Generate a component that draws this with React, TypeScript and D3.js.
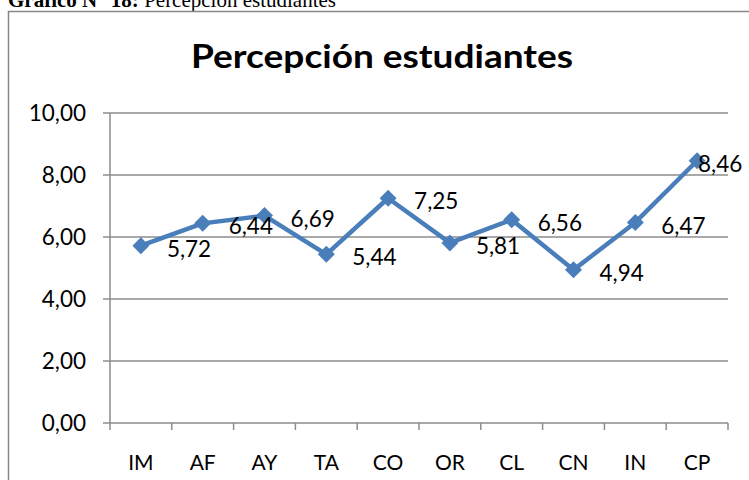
import React from 'react';
import * as d3 from 'd3';

const categories = ['IM', 'AF', 'AY', 'TA', 'CO', 'OR', 'CL', 'CN', 'IN', 'CP'];
const values = [5.72, 6.44, 6.69, 5.44, 7.25, 5.81, 6.56, 4.94, 6.47, 8.46];
const yTicks = [0, 2, 4, 6, 8, 10];

const fmt = (v: number) => v.toFixed(2).replace('.', ',');

export default function App() {
  const width = 749;
  const height = 480;
  const margin = { left: 110, right: 21, top: 113, bottom: 57 };

  const x = d3.scaleBand<string>()
    .domain(categories)
    .range([margin.left, width - margin.right]);
  const y = d3.scaleLinear()
    .domain([0, 10])
    .range([height - margin.bottom, margin.top]);

  const line = d3.line<number>()
    .x((d, i) => x(categories[i])! + x.bandwidth() / 2)
    .y(d => y(d));

  const font = 'Lato, "Open Sans", sans-serif';
  const grid = '#8c8c8c';
  const blue = '#4a7ebb';

  return (
    <svg width={width} height={height} style={{ position: 'absolute', left: 0, top: 0 }}>
      <rect width={width} height={height} fill="#fff" />
      {/* caption, cut at the top like the scan */}
      <text x={8} y={7} fontFamily='"Liberation Serif", "Times New Roman", serif' fontSize={21}>
        <tspan fontWeight="bold">Gráfico N° 18:</tspan> Percepción estudiantes
      </text>
      {/* chart frame */}
      <path d={`M8.5,${height + 2} V11.5 H${width + 2}`} fill="none" stroke="#878787" strokeWidth={1.5} />

      <text x={382} y={68} textAnchor="middle" fontFamily={font} fontWeight="bold" fontSize={33}
        textLength={382} lengthAdjust="spacingAndGlyphs">
        Percepción estudiantes
      </text>

      {yTicks.map(t => (
        <g key={t}>
          <line x1={margin.left - 7} x2={width - margin.right} y1={y(t)} y2={y(t)} stroke={grid} strokeWidth={1.5} />
          <text x={86} y={y(t)} dy="0.36em" textAnchor="end" fontFamily={font} fontSize={22.5}>{fmt(t)}</text>
        </g>
      ))}
      <line x1={margin.left} x2={margin.left} y1={y(10)} y2={y(0)} stroke={grid} strokeWidth={1.5} />

      {categories.map(c => (
        <line key={'t' + c} x1={x(c)!} x2={x(c)!} y1={y(0)} y2={y(0) + 7} stroke={grid} strokeWidth={1.5} />
      ))}
      <line x1={width - margin.right} x2={width - margin.right} y1={y(0)} y2={y(0) + 7} stroke={grid} strokeWidth={1.5} />
      {categories.map(c => (
        <text key={'l' + c} x={x(c)! + x.bandwidth() / 2} y={462} dy="0.36em" textAnchor="middle" fontFamily={font} fontSize={21}>{c}</text>
      ))}

      <path d={line(values) || ''} fill="none" stroke={blue} strokeWidth={4.5} strokeLinejoin="round" />
      {values.map((v, i) => {
        const cx = x(categories[i])! + x.bandwidth() / 2;
        const cy = y(v);
        return (
          <rect key={'m' + i} x={cx - 6} y={cy - 6} width={12} height={12} fill={blue}
            transform={`rotate(45 ${cx} ${cy})`} />
        );
      })}
      {values.map((v, i) => {
        const cx = x(categories[i])! + x.bandwidth() / 2;
        const lx = Math.min(cx + 26, width - 5 - 46);
        return (
          <text key={'d' + i} x={lx} y={y(v) + 3} dy="0.36em" fontFamily={font} fontSize={22.5}>{fmt(v)}</text>
        );
      })}
    </svg>
  );
}
